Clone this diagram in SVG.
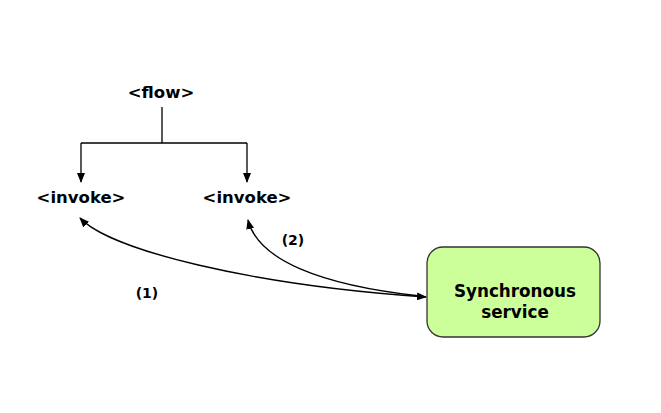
<svg xmlns="http://www.w3.org/2000/svg" width="661" height="413" viewBox="0 0 661 413">
<defs>
<style>
text{font-family:"DejaVu Sans",Verdana,sans-serif;font-weight:bold;fill:#000;text-anchor:middle}
.t{font-size:16.5px}
.n{font-size:14px}
.s{font-size:16.8px}
.c{fill:none;stroke:#000;stroke-width:1.3}
</style>
<marker id="ah" markerWidth="10" markerHeight="8" refX="9" refY="4" orient="auto-start-reverse" markerUnits="userSpaceOnUse">
<path d="M0,0 L10,4 L0,8 Z" fill="#000"/>
</marker>
</defs>
<rect width="661" height="413" fill="#fff"/>
<g id="connectors">
<path class="c" d="M162,107 V143 M81,143 H247"/>
<path class="c" d="M81,143 V182" marker-end="url(#ah)"/>
<path class="c" d="M247,143 V182" marker-end="url(#ah)"/>
<path class="c" d="M80,218 C110,250 250,285 426,297" marker-start="url(#ah)" marker-end="url(#ah)"/>
<path class="c" d="M248,220 C258,260 320,285 420,296" marker-start="url(#ah)"/>
<text class="n" x="147" y="298">(1)</text>
<text class="n" x="293" y="245">(2)</text>
</g>
<g id="flow"><text class="t" x="161" y="98">&lt;flow&gt;</text></g>
<g id="invoke1"><text class="t" x="81" y="203">&lt;invoke&gt;</text></g>
<g id="invoke2"><text class="t" x="247" y="203">&lt;invoke&gt;</text></g>
<g id="service">
<rect x="427" y="247" width="173" height="90" rx="16" fill="#ccff99" stroke="#333" stroke-width="1.3"/>
<text class="s" x="515" y="297">Synchronous</text>
<text class="s" x="515" y="318">service</text>
</g>
</svg>
